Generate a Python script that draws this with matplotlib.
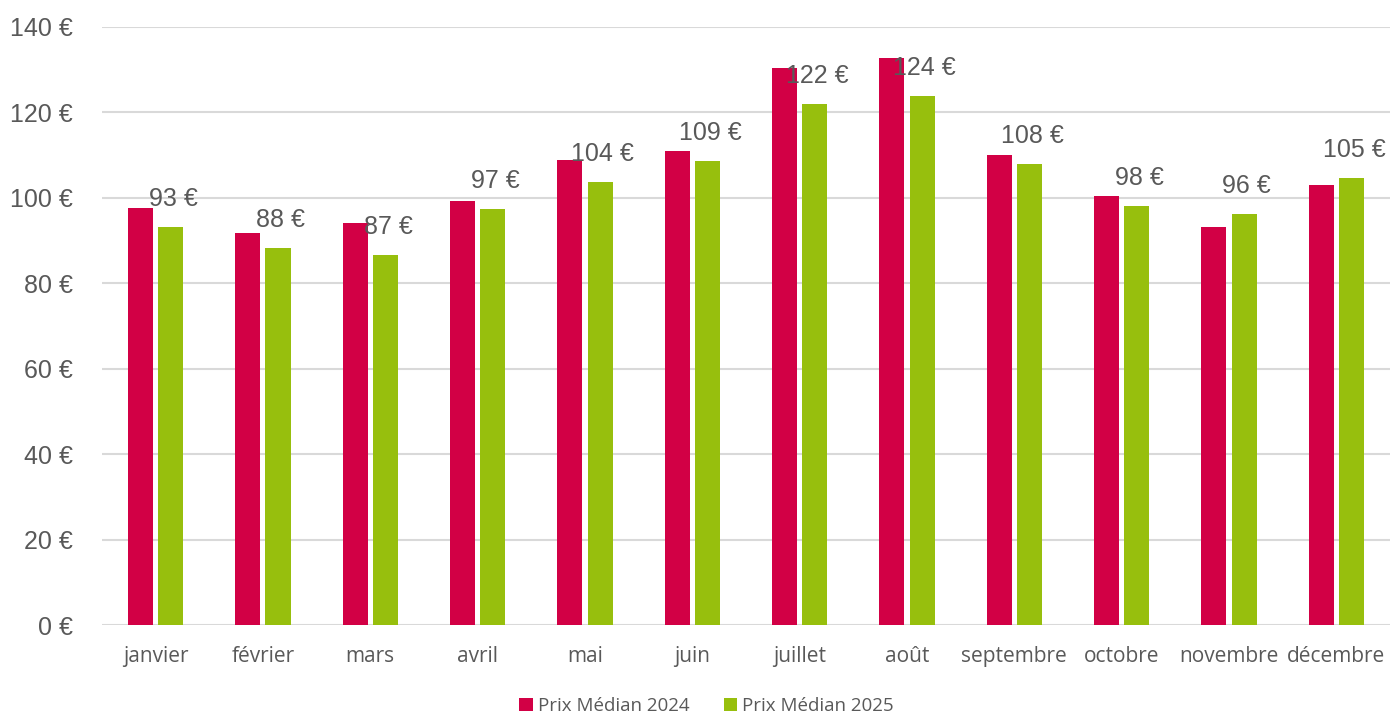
import matplotlib
matplotlib.use("Agg")
import matplotlib.pyplot as plt
import numpy as np

months = ["janvier", "février", "mars", "avril", "mai", "juin", "juillet",
          "août", "septembre", "octobre", "novembre", "décembre"]
prix_2024 = [97.6, 91.8, 94.2, 99.3, 108.9, 111.0, 130.4, 132.8, 110.0, 100.4, 93.2, 103.0]
prix_2025 = [93.2, 88.2, 86.6, 97.4, 103.8, 108.7, 122.0, 123.8, 107.9, 98.2, 96.3, 104.6]
labels_2025 = ["93 €", "88 €", "87 €", "97 €", "104 €", "109 €", "122 €",
               "124 €", "108 €", "98 €", "96 €", "105 €"]
yticks = [0, 20, 40, 60, 80, 100, 120, 140]

plt.rcParams['font.family'] = ['Open Sans', 'DejaVu Sans']
NUMFONT = ['Liberation Sans', 'DejaVu Sans']
TXT = "#595959"
RED = "#D20045"
GREEN = "#97BF0D"

fig = plt.figure(figsize=(13.91, 7.14), dpi=100)
ax = fig.add_axes([0.0733, 0.1246, 0.926, 0.8376])

x = np.arange(len(months))
w = 0.233
off = 0.14
ax.bar(x - off, prix_2024, w, color=RED, label="Prix Médian 2024", zorder=3)
ax.bar(x + off, prix_2025, w, color=GREEN, label="Prix Médian 2025", zorder=3)

for xi, v, lab in zip(x, prix_2025, labels_2025):
    ax.annotate(lab, (xi + off, v), xytext=(2, 20), textcoords="offset points",
                ha="center", va="center", fontsize=18, color=TXT, zorder=4,
                family=NUMFONT)

ax.set_xlim(-0.5, len(months) - 0.5)
ax.set_ylim(0, 140)
ax.set_yticks(yticks)
ax.set_yticklabels([f"{t} €" for t in yticks], fontsize=18, color=TXT, family=NUMFONT)
ax.set_xticks(x)
ax.set_xticklabels(months, fontsize=15, color=TXT)
ax.tick_params(axis="both", length=0)
ax.tick_params(axis="y", pad=21)
ax.tick_params(axis="x", pad=15)

ax.grid(axis="y", color="#D9D9D9", linewidth=1.5, zorder=0)
for s in ax.spines.values():
    s.set_visible(False)

fig.legend(loc="center", bbox_to_anchor=(0.508, 0.011), ncol=2, frameon=False,
           fontsize=13.5, handlelength=0.7, handleheight=0.7, handletextpad=0.3,
           columnspacing=1.8, labelcolor=TXT)

fig.savefig("out.png", dpi=100)
